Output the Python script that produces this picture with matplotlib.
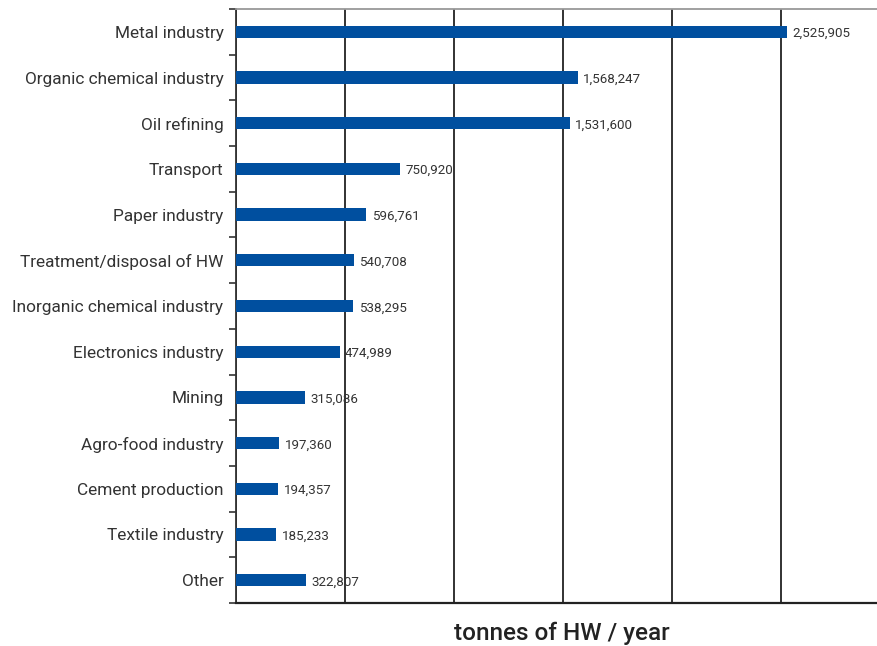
import matplotlib
matplotlib.use("Agg")
import matplotlib.pyplot as plt
from matplotlib.ticker import MultipleLocator, FixedLocator

categories = ["Metal industry", "Organic chemical industry", "Oil refining", "Transport",
              "Paper industry", "Treatment/disposal of HW", "Inorganic chemical industry",
              "Electronics industry", "Mining", "Agro-food industry", "Cement production",
              "Textile industry", "Other"]
values = [2525905, 1568247, 1531600, 750920, 596761, 540708, 538295,
          474989, 315086, 197360, 194357, 185233, 322807]
value_labels = ["2,525,905", "1,568,247", "1,531,600", "750,920", "596,761", "540,708",
                "538,295", "474,989", "315,086", "197,360", "194,357", "185,233", "322,807"]

plt.rcParams['font.family'] = ['Roboto', 'DejaVu Sans']

fig = plt.figure(figsize=(8.78, 6.46), dpi=100)
ax = fig.add_axes([236/878, 1 - 603/646, (878-236)/878, (603-9)/646])

bar_color = "#004f9f"
ypos = list(range(len(categories)))
ax.barh(ypos, values, height=0.27, color=bar_color, zorder=3)
ax.set_ylim(len(categories) - 0.5, -0.5)
ax.set_xlim(0, 2945000)

ax.set_yticks(ypos)
ax.set_yticklabels(categories, fontsize=12.4, color="#333333")
ax.tick_params(axis='y', which='major', length=0, pad=9)
ax.yaxis.set_minor_locator(FixedLocator([i - 0.5 for i in range(len(categories) + 1)]))
ax.tick_params(axis='y', which='minor', length=5, width=1.2, color="#333333", direction='out')

ax.xaxis.set_major_locator(MultipleLocator(500000))
ax.set_xticklabels([])
ax.tick_params(axis='x', length=0)
ax.grid(axis='x', color="#222222", linewidth=1.3, zorder=1)

for i, (v, lab) in enumerate(zip(values, value_labels)):
    ax.text(v + 25000, i + 0.04, lab, va='center', ha='left', fontsize=9.6, color="#333333")

ax.spines['left'].set_color("#333333")
ax.spines['left'].set_linewidth(1.3)
ax.spines['bottom'].set_color("#222222")
ax.spines['bottom'].set_linewidth(1.6)
ax.spines['top'].set_color("#999999")
ax.spines['top'].set_linewidth(1.3)
ax.spines['right'].set_visible(False)

fig.text(562/878, 1 - 633/646, "tonnes of HW / year", ha='center', va='center',
         fontsize=17.5, color="#222222", fontweight='medium')

fig.savefig("out.png", dpi=100)
